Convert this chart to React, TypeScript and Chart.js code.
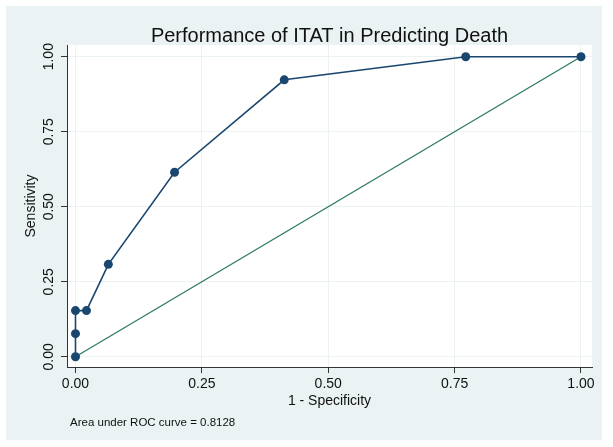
import React, { useEffect, useRef } from "react";
import { Chart, registerables } from "chart.js";

Chart.register(...registerables);

const fpr = [0, 0, 0, 0.0217, 0.065, 0.196, 0.413, 0.772, 1];
const tpr = [0, 0.077, 0.154, 0.154, 0.308, 0.615, 0.923, 1, 1];
const refX = [0, 1];
const refY = [0, 1];
const tickValues = [0, 0.25, 0.5, 0.75, 1];
const titleText = "Performance of ITAT in Predicting Death";
const xTitle = "1 - Specificity";
const yTitle = "Sensitivity";
const noteText = "Area under ROC curve = 0.8128";

const FONT = "'Liberation Sans', Arial, Helvetica, sans-serif";
const NAVY = "#1a476f";
const GREEN = "#2f7a62";
const BG = "#eaf2f3";
const TEXT = "#111111";

const bgPlugin = {
  id: "stataBg",
  beforeDraw(chart: any) {
    const { ctx, chartArea } = chart;
    ctx.save();
    ctx.fillStyle = "#ffffff";
    ctx.fillRect(0, 0, chart.width, chart.height);
    ctx.fillStyle = BG;
    ctx.fillRect(6, 6, 596, 434);
    ctx.fillStyle = "#ffffff";
    ctx.fillRect(chartArea.left, chartArea.top, chartArea.right - chartArea.left, chartArea.bottom - chartArea.top);
    ctx.restore();
  },
  afterDraw(chart: any) {
    const { ctx, chartArea } = chart;
    ctx.save();
    ctx.fillStyle = TEXT;
    ctx.font = `20px ${FONT}`;
    ctx.textAlign = "center";
    ctx.textBaseline = "alphabetic";
    ctx.fillText(titleText, (chartArea.left + chartArea.right) / 2, 42);
    ctx.font = `11.5px ${FONT}`;
    ctx.textAlign = "left";
    ctx.fillText(noteText, 70, 425.5);
    ctx.restore();
  },
};

export default function App() {
  const ref = useRef<HTMLCanvasElement>(null);
  useEffect(() => {
    const canvas = ref.current!;
    const setTicks = (scale: any) => {
      scale.ticks = tickValues.map((v) => ({ value: v }));
    };
    const chart = new Chart(canvas, {
      type: "scatter",
      data: {
        datasets: [
          {
            label: "ROC",
            data: fpr.map((x, i) => ({ x, y: tpr[i] })),
            showLine: true,
            borderColor: NAVY,
            backgroundColor: NAVY,
            borderWidth: 1.6,
            pointRadius: 4.5,
            pointBorderWidth: 0,
            pointBackgroundColor: NAVY,
            order: 1,
          },
          {
            label: "Reference",
            data: refX.map((x, i) => ({ x, y: refY[i] })),
            showLine: true,
            borderColor: GREEN,
            borderWidth: 1.3,
            pointRadius: 0,
            order: 2,
          },
        ],
      },
      options: {
        responsive: false,
        animation: false,
        events: [],
        layout: { padding: { left: 0, top: 45, right: 21, bottom: 0 } },
        plugins: {
          legend: { display: false },
          title: { display: false },
          tooltip: { enabled: false },
        },
        scales: {
          x: {
            type: "linear",
            min: -0.0168,
            max: 1.0218,
            afterBuildTicks: setTicks,
            afterFit: (s: any) => {
              s.height = 80;
            },
            border: { display: true, color: "#333333", width: 1 },
            grid: {
              color: BG,
              lineWidth: 1,
              tickColor: "#333333",
              tickLength: 6,
              drawOnChartArea: true,
            },
            ticks: {
              color: TEXT,
              font: { family: FONT, size: 14 },
              padding: 3,
              maxRotation: 0,
              minRotation: 0,
              callback: (v: any) => Number(v).toFixed(2),
            },
            title: {
              display: true,
              text: xTitle,
              color: TEXT,
              font: { family: FONT, size: 14 },
              padding: { top: 0, bottom: 37.6 },
            },
          },
          y: {
            type: "linear",
            min: -0.034,
            max: 1.039,
            afterBuildTicks: setTicks,
            afterFit: (s: any) => {
              s.width = 67;
            },
            border: { display: true, color: "#333333", width: 1 },
            grid: {
              color: BG,
              lineWidth: 1,
              tickColor: "#333333",
              tickLength: 6,
            },
            ticks: {
              color: TEXT,
              font: { family: FONT, size: 14 },
              padding: -1.5,
              minRotation: 90,
              maxRotation: 90,
              crossAlign: "center",
              callback: (v: any) => Number(v).toFixed(2),
            },
            title: {
              display: true,
              text: yTitle,
              color: TEXT,
              font: { family: FONT, size: 14 },
              padding: { top: 23.1, bottom: 0 },
            },
          },
        },
      },
      plugins: [bgPlugin],
    } as any);
    return () => chart.destroy();
  }, []);
  return (
    <div style={{ position: "fixed", left: 0, top: 0, width: 613, height: 447 }}>
      <canvas ref={ref} width={613} height={447} style={{ display: "block" }} />
    </div>
  );
}
